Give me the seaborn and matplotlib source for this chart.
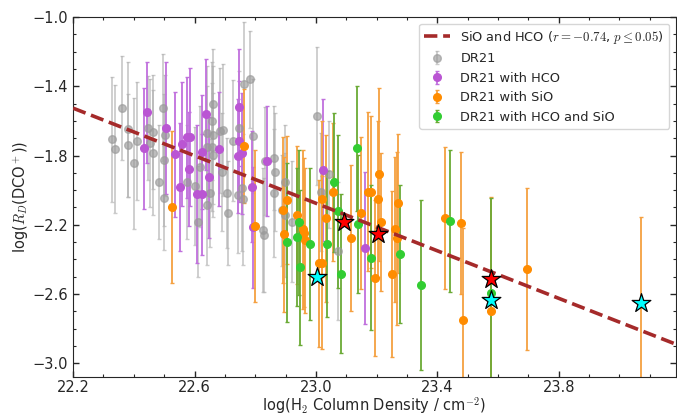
import numpy as np
import matplotlib
matplotlib.use('Agg')
import matplotlib.pyplot as plt
import seaborn as sns

# DR21 (all)
gray_x = [22.360, 22.327, 22.338, 22.380, 22.380, 22.410, 22.401, 22.464, 22.464, 22.495,
          22.503, 22.483, 22.500, 22.500, 22.602, 22.618, 22.612, 22.448, 22.453, 22.783,
          22.764, 22.662, 22.657, 22.684, 22.695, 22.662, 22.726, 22.793, 22.657, 22.642,
          22.662, 22.689, 22.706, 22.711, 22.640, 22.755, 22.744, 22.761, 22.862, 22.865,
          22.862, 22.826, 22.829, 22.922, 22.887, 23.005, 23.044, 23.073, 22.898, 22.898,
          22.832, 22.640, 22.745, 22.574, 22.651, 23.015]
gray_y = [-1.526, -1.707, -1.765, -1.649, -1.742, -1.717, -1.846, -1.663, -1.784, -1.524,
          -1.682, -1.952, -2.045, -1.827, -1.977, -1.865, -2.183, -1.643, -1.730, -1.360,
          -1.389, -1.503, -1.601, -1.657, -1.653, -1.682, -1.715, -1.688, -1.750, -1.672,
          -1.798, -1.894, -2.017, -2.131, -2.085, -1.990, -2.031, -2.054, -1.813, -1.894,
          -2.017, -2.231, -2.260, -2.183, -2.116, -1.571, -1.909, -2.353, -1.952, -2.145,
          -1.832, -1.750, -1.640, -1.955, -2.016, -2.010]
gray_err = [0.30, 0.36, 0.37, 0.39, 0.30, 0.34, 0.38, 0.33, 0.36, 0.31,
            0.35, 0.33, 0.30, 0.38, 0.34, 0.35, 0.32, 0.30, 0.37, 0.28,
            0.36, 0.32, 0.34, 0.36, 0.38, 0.40, 0.35, 0.33, 0.37, 0.39,
            0.36, 0.34, 0.32, 0.30, 0.35, 0.36, 0.33, 0.38, 0.30, 0.34,
            0.37, 0.36, 0.33, 0.35, 0.32, 0.40, 0.31, 0.40, 0.33, 0.36,
            0.31, 0.35, 0.33, 0.33, 0.31, 0.34]

# DR21 with HCO
hco_x = [22.445, 22.435, 22.506, 22.536, 22.558, 22.553, 22.576, 22.585, 22.583, 22.607,
         22.626, 22.624, 22.638, 22.681, 22.649, 22.745, 22.747, 22.744, 22.757, 22.788,
         22.792, 22.839, 23.022, 23.161]
hco_y = [-1.551, -1.757, -1.642, -1.794, -1.734, -1.981, -1.695, -1.692, -1.879, -2.023,
         -2.023, -1.779, -1.561, -1.761, -1.927, -1.522, -1.717, -1.803, -1.788, -1.981,
         -2.216, -1.832, -1.886, -2.335]
hco_err = [0.29, 0.35, 0.38, 0.36, 0.36, 0.37, 0.35, 0.40, 0.33, 0.40,
           0.35, 0.33, 0.32, 0.33, 0.35, 0.34, 0.35, 0.33, 0.35, 0.32,
           0.35, 0.32, 0.41, 0.44]

# DR21 with SiO
sio_x = [22.525, 22.763, 22.799, 22.905, 22.890, 22.896, 22.936, 22.961, 22.956, 22.964,
         23.019, 23.033, 23.010, 23.019, 23.057, 23.117, 23.150, 23.170, 23.183, 23.208,
         23.203, 23.213, 23.194, 23.249, 23.262, 23.266, 23.269, 23.425, 23.479, 23.483,
         23.578, 23.694, 24.070]
sio_y = [-2.097, -1.746, -2.208, -2.058, -2.114, -2.256, -2.145, -2.247, -2.227, -2.291,
         -2.052, -2.164, -2.424, -2.420, -2.010, -2.277, -2.131, -2.010, -2.010, -1.908,
         -2.052, -2.183, -2.507, -2.486, -2.227, -2.277, -2.077, -2.160, -2.189, -2.751,
         -2.699, -2.457, -2.653]
sio_err = [0.44, 0.33, 0.44, 0.37, 0.42, 0.45, 0.40, 0.43, 0.46, 0.42,
           0.45, 0.48, 0.48, 0.50, 0.40, 0.42, 0.44, 0.46, 0.44, 0.50,
           0.45, 0.40, 0.45, 0.48, 0.42, 0.50, 0.40, 0.41, 0.41, 0.53,
           0.66, 0.47, 0.50]

# DR21 with HCO and SiO
both_x = [22.905, 22.947, 22.945, 22.936, 22.980, 23.035, 23.060, 23.071, 23.084, 23.134,
          23.139, 23.181, 23.276, 23.346, 23.441, 23.578]
both_y = [-2.301, -2.447, -2.187, -2.270, -2.312, -2.312, -1.955, -2.123, -2.484, -1.759,
          -2.197, -2.391, -2.368, -2.549, -2.179, -2.597]
both_err = [0.46, 0.45, 0.42, 0.40, 0.44, 0.42, 0.40, 0.44, 0.46, 0.36,
            0.40, 0.42, 0.40, 0.49, 0.41, 0.55]

# highlighted sources
red_x = [23.093, 23.206, 23.576]
red_y = [-2.187, -2.254, -2.516]
cyan_x = [23.004, 23.576, 24.070]
cyan_y = [-2.501, -2.636, -2.653]

# linear fit
fit_slope = -0.687
fit_intercept = 13.725
fit_label = r'SiO and HCO ($r = -0.74$, $p \leq 0.05$)'

xlim = (22.2, 24.185)
ylim = (-3.08, -1.0)

sns.set_style('ticks')
plt.rcParams['font.family'] = ['DejaVu Sans']
plt.rcParams['mathtext.fontset'] = 'cm'

fig, ax = plt.subplots(figsize=(6.77, 4.17), dpi=100)
fig.subplots_adjust(left=0.108, right=0.998, top=0.959, bottom=0.096)

groups = [
    (gray_x, gray_y, gray_err, '#9a9a9a', '#b0b0b0', 0.65, 'DR21'),
    (hco_x, hco_y, hco_err, 'mediumorchid', '#c070dd', 1.0, 'DR21 with HCO'),
    (sio_x, sio_y, sio_err, 'darkorange', '#f5a040', 1.0, 'DR21 with SiO'),
    (both_x, both_y, both_err, 'limegreen', '#6aaa35', 1.0, 'DR21 with HCO and SiO'),
]
for gx, gy, ge, c, ec, a, lab in groups:
    ax.errorbar(gx, gy, yerr=ge, fmt='o', color=c, ecolor=ec, ms=5.5, alpha=a,
                elinewidth=1.3, capsize=1.5, capthick=1, label=lab, zorder=2)

fit_x = np.array(xlim)
fit_y = fit_intercept + fit_slope * fit_x
sns.lineplot(x=fit_x, y=fit_y, ax=ax, color='#a52a2a', lw=2.6, linestyle='--',
             label=fit_label, zorder=4)

sns.scatterplot(x=red_x, y=red_y, ax=ax, marker='*', s=200, color='red',
                edgecolor='black', linewidth=0.9, zorder=6, legend=False)
sns.scatterplot(x=cyan_x, y=cyan_y, ax=ax, marker='*', s=200, color='cyan',
                edgecolor='black', linewidth=0.9, zorder=6, legend=False)

ax.set_xlim(*xlim)
ax.set_ylim(*ylim)
ax.set_xticks([22.2, 22.6, 23.0, 23.4, 23.8])
ax.set_yticks([-3.0, -2.6, -2.2, -1.8, -1.4, -1.0])
ax.xaxis.set_minor_locator(matplotlib.ticker.MultipleLocator(0.1))
ax.yaxis.set_minor_locator(matplotlib.ticker.MultipleLocator(0.1))
ax.tick_params(which='both', direction='in', top=True, right=True, labelsize=10.5)
ax.tick_params(which='major', length=4.5, width=1)
ax.tick_params(which='minor', length=2.5, width=0.8)
ax.tick_params(axis='x', which='major', pad=2.5)

ax.set_xlabel(r'log(H$_2$ Column Density / cm$^{-2}$)', fontsize=10.5, labelpad=0)
ax.set_ylabel(r'log($R_D$(DCO$^+$))', fontsize=10.5, labelpad=2)

handles, labels = ax.get_legend_handles_labels()
order = [labels.index(fit_label)] + [i for i, l in enumerate(labels) if l != fit_label]
ax.legend([handles[i] for i in order], [labels[i] for i in order],
          loc='upper right', fontsize=9.3, framealpha=0.8)

fig.savefig('out.png', dpi=100)
